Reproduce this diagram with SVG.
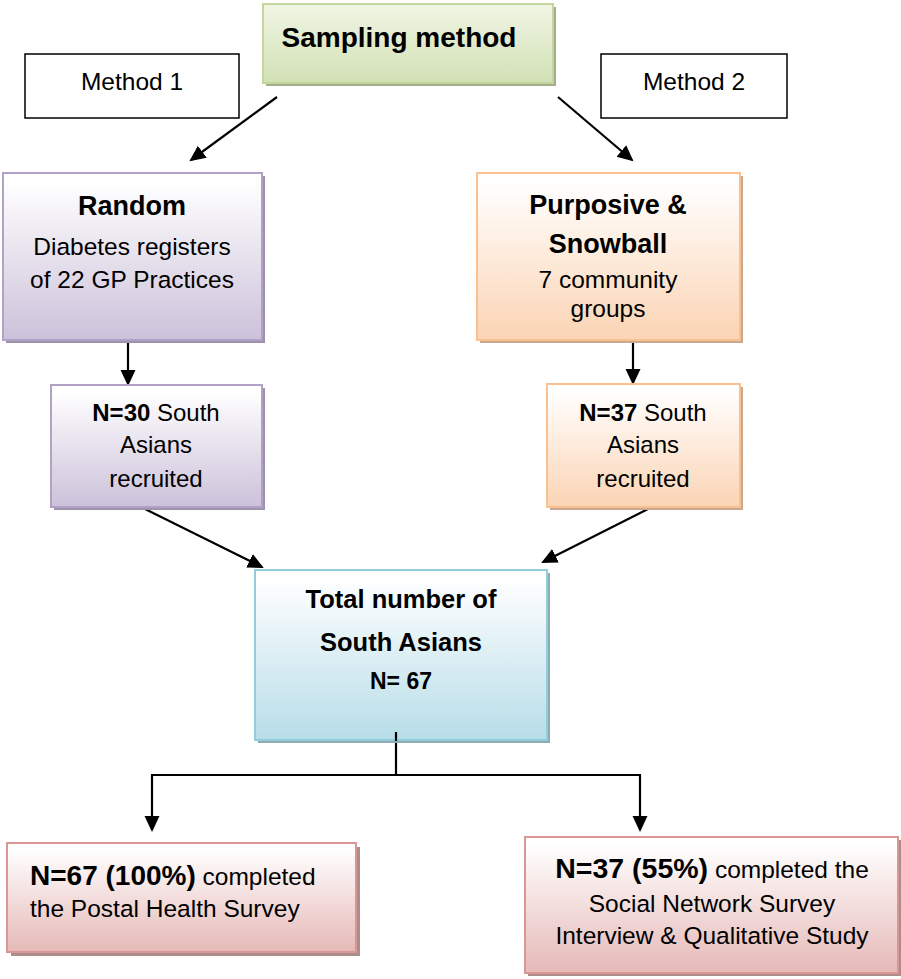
<svg xmlns="http://www.w3.org/2000/svg" width="901" height="979" viewBox="0 0 901 979">
<style>
text{font-family:"Liberation Sans",Arial,sans-serif;fill:#000;text-anchor:middle}
.b{font-weight:bold}
.n{font-size:24.5px}
.box{stroke-width:2}
.plain{fill:#fff;stroke:#000;stroke-width:1.5}
.con{stroke:#000;stroke-width:2.2;fill:none}
.arr{marker-end:url(#ah)}
</style>
<defs>
<linearGradient id="gG" x1="0" y1="0" x2="0" y2="1"><stop offset="0" stop-color="#eff5e4"/><stop offset="1" stop-color="#d3e1b5"/></linearGradient>
<linearGradient id="gP" x1="0" y1="0" x2="0" y2="1"><stop offset="0.05" stop-color="#ffffff"/><stop offset="1" stop-color="#ccc1da"/></linearGradient>
<linearGradient id="gO" x1="0" y1="0" x2="0" y2="1"><stop offset="0.05" stop-color="#ffffff"/><stop offset="1" stop-color="#fbd4b4"/></linearGradient>
<linearGradient id="gB" x1="0" y1="0" x2="0" y2="1"><stop offset="0.05" stop-color="#ffffff"/><stop offset="1" stop-color="#b7dde8"/></linearGradient>
<linearGradient id="gR" x1="0" y1="0" x2="0" y2="1"><stop offset="0.05" stop-color="#ffffff"/><stop offset="1" stop-color="#e5b9b7"/></linearGradient>
<marker id="ah" markerUnits="userSpaceOnUse" markerWidth="18" markerHeight="18" refX="14" refY="7.5" orient="auto"><path d="M0,0 L16,7.5 L0,15 z" fill="#000"/></marker>
</defs>

<g id="connectors">
<line class="con arr" x1="277" y1="97" x2="191" y2="160"/>
<line class="con arr" x1="558" y1="97" x2="632" y2="160"/>
<line class="con arr" x1="128" y1="343" x2="128" y2="384"/>
<line class="con arr" x1="633" y1="343" x2="633" y2="383"/>
<line class="con arr" x1="141" y1="507" x2="262" y2="567"/>
<line class="con arr" x1="652" y1="507" x2="543" y2="562"/>
<line class="con" x1="396" y1="740" x2="396" y2="775"/>
<line class="con" x1="151" y1="775" x2="641" y2="775"/>
<line class="con arr" x1="152" y1="775" x2="152" y2="830"/>
<line class="con arr" x1="640" y1="775" x2="640" y2="830"/>
</g>

<g id="sampling">
<rect x="266" y="7" width="290" height="79" fill="#a3ad8e"/>
<rect class="box" x="263" y="4" width="290" height="79" fill="url(#gG)" stroke="#c3d69b"/>
<text class="b" x="399" y="47" font-size="28">Sampling method</text>
</g>

<g id="method1">
<rect class="plain" x="25" y="54" width="214" height="64"/>
<text class="n" x="132" y="90">Method 1</text>
</g>

<g id="method2">
<rect class="plain" x="601" y="54" width="186" height="64"/>
<text class="n" x="694" y="90">Method 2</text>
</g>

<g id="random">
<rect x="6" y="176" width="259" height="167" fill="#9e93ab"/>
<rect class="box" x="3" y="173" width="259" height="167" fill="url(#gP)" stroke="#b2a1c7"/>
<text class="b" x="132" y="215" font-size="27">Random</text>
<text class="n" x="132" y="255">Diabetes registers</text>
<text class="n" x="132" y="288">of 22 GP Practices</text>
</g>

<g id="purposive">
<rect x="480" y="176" width="263" height="167" fill="#caa78d"/>
<rect class="box" x="477" y="173" width="263" height="167" fill="url(#gO)" stroke="#fac090"/>
<text class="b" x="608" y="214" font-size="27">Purposive &amp;</text>
<text class="b" x="608" y="253" font-size="27">Snowball</text>
<text class="n" x="608" y="288">7 community</text>
<text class="n" x="608" y="317">groups</text>
</g>

<g id="n30">
<rect x="54" y="388" width="211" height="122" fill="#9e93ab"/>
<rect class="box" x="51" y="385" width="211" height="122" fill="url(#gP)" stroke="#b2a1c7"/>
<text x="156" y="421" font-size="24"><tspan class="b">N=30</tspan> South</text>
<text x="156" y="453" font-size="24">Asians</text>
<text x="156" y="487" font-size="24">recruited</text>
</g>

<g id="n37">
<rect x="550" y="387" width="193" height="123" fill="#caa78d"/>
<rect class="box" x="547" y="384" width="193" height="123" fill="url(#gO)" stroke="#fac090"/>
<text x="643" y="421" font-size="24"><tspan class="b">N=37</tspan> South</text>
<text x="643" y="453" font-size="24">Asians</text>
<text x="643" y="487" font-size="24">recruited</text>
</g>

<g id="total">
<rect x="258" y="573" width="292" height="170" fill="#8eabb3"/>
<rect class="box" x="255" y="570" width="292" height="170" fill="url(#gB)" stroke="#92cddc"/>
<text class="b" x="401" y="608" font-size="25.5">Total number of</text>
<text class="b" x="401" y="651" font-size="25.5">South Asians</text>
<text class="b" x="401" y="689" font-size="23">N= 67</text>
<line class="con" x1="396" y1="732" x2="396" y2="741"/>
</g>

<g id="postal">
<rect x="11" y="847" width="349" height="109" fill="#ad8d8c"/>
<rect class="box" x="7" y="843" width="349" height="109" fill="url(#gR)" stroke="#d99694"/>
<text x="30" y="885" style="text-anchor:start"><tspan class="b" font-size="28">N=67 (100%)</tspan><tspan font-size="24.5"> completed</tspan></text>
<text class="n" x="30" y="917" style="text-anchor:start">the Postal Health Survey</text>
</g>

<g id="social">
<rect x="528" y="840" width="373" height="136" fill="#ad8d8c"/>
<rect class="box" x="525" y="837" width="373" height="136" fill="url(#gR)" stroke="#d99694"/>
<text x="712" y="878"><tspan class="b" font-size="28.5">N=37 (55%)</tspan><tspan font-size="24.5"> completed the</tspan></text>
<text class="n" x="712" y="912">Social Network Survey</text>
<text class="n" x="712" y="944">Interview &amp; Qualitative Study</text>
</g>
</svg>
